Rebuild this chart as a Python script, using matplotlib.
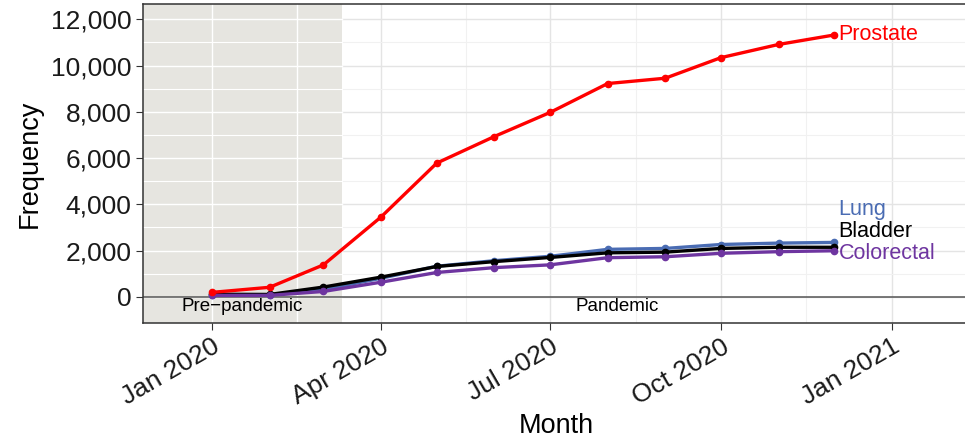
#!/usr/bin/env python
"""
Monthly cumulative frequency of cancer types, pre-pandemic vs pandemic
"""

import matplotlib
matplotlib.use("Agg")
import matplotlib.pyplot as plt
import matplotlib.dates as mdates
import numpy as np
import pandas as pd

plt.rcParams["font.family"] = ["Liberation Sans", "DejaVu Sans"]

# Data
MONTHS = pd.date_range("2020-01-01", periods=12, freq="MS")
PROSTATE = [190, 410, 1380, 3450, 5780, 6930, 7970, 9220, 9450, 10340, 10910, 11320]
LUNG = [90, 80, 310, 800, 1320, 1560, 1750, 2050, 2090, 2260, 2320, 2350]
BLADDER = [110, 100, 420, 850, 1310, 1520, 1700, 1900, 1930, 2090, 2140, 2140]
COLORECTAL = [60, 60, 230, 630, 1050, 1260, 1380, 1690, 1730, 1880, 1950, 1990]

SERIES = ["Lung", "Bladder", "Colorectal", "Prostate"]
VALUES = [LUNG, BLADDER, COLORECTAL, PROSTATE]
COLOURS = ["#4a6cb3", "black", "#6e35a0", "#ff0000"]
LABEL_Y = [3780, 2830, 1880, 11320]

SHADE_END = pd.Timestamp("2020-03-11")
PRE_TEXT_X = pd.Timestamp("2020-01-17")
PAN_TEXT_X = pd.Timestamp("2020-08-06")
X_MIN = pd.Timestamp("2019-11-25")
X_MAX = pd.Timestamp("2021-02-12")

fig = plt.figure(figsize=(9.65, 4.38), dpi=100)
ax = fig.add_axes([0.1485, 0.263, 0.8565, 0.728])

ax.set_xlim(X_MIN, X_MAX)
ax.set_ylim(-1126, 12662)

# Ticks
major_x = pd.date_range("2020-01-01", "2021-01-01", freq="3MS")
minor_x = [a + (b - a) / 2 for a, b in zip(major_x[:-1], major_x[1:])]
major_y = np.arange(0, 12001, 2000)
minor_y = np.arange(1000, 12001, 2000)

ax.set_xticks(major_x)
ax.set_xticks(minor_x, minor=True)
ax.set_yticks(major_y)
ax.set_yticks(minor_y, minor=True)
ax.xaxis.set_major_formatter(mdates.DateFormatter("%b %Y"))
ax.yaxis.set_major_formatter(matplotlib.ticker.FuncFormatter(lambda v, p: f"{int(v):,}"))

# Grid (light grey in the pandemic part)
ax.set_axisbelow(True)
ax.grid(which="major", color="#e4e4e4", linewidth=1.0)
ax.grid(which="minor", color="#f1f1f1", linewidth=0.8)

# Pre-pandemic shading with white grid on top
ax.axvspan(X_MIN, SHADE_END, color="#e6e5e0", zorder=0.6, linewidth=0)
for y in list(major_y) + list(minor_y):
    ax.plot([X_MIN, SHADE_END], [y, y], color="white",
            linewidth=1.0 if y in major_y else 0.8, zorder=0.7)
for x in list(major_x) + list(minor_x):
    if x < SHADE_END:
        ax.axvline(x, color="white", linewidth=1.0, zorder=0.7)

ax.axhline(0, color="#555555", linewidth=1.1, zorder=1)

# Series lines
for name, vals, col, ly in zip(SERIES, VALUES, COLOURS, LABEL_Y):
    ax.plot(MONTHS, vals, color=col, linewidth=2.4, marker="o", markersize=4.5, zorder=3)
    ax.annotate(name, xy=(MONTHS[-1], ly), xytext=(3, 0), textcoords="offset points",
                color=col, fontsize=15.5, va="center", ha="left")

ax.text(PRE_TEXT_X, -430, "Pre\u2212pandemic", fontsize=13.5, ha="center", va="center", zorder=4)
ax.text(PAN_TEXT_X, -430, "Pandemic", fontsize=13.5, ha="center", va="center", zorder=4)

ax.tick_params(axis="both", which="major", labelsize=19, color="#333333", length=5,
               labelcolor="#1a1a1a")
ax.tick_params(axis="both", which="minor", length=0)
plt.setp(ax.get_xticklabels(), rotation=30, ha="right", rotation_mode="anchor")

for spine in ax.spines.values():
    spine.set_color("#333333")
    spine.set_linewidth(1.1)

ax.set_ylabel("Frequency", fontsize=19.5, labelpad=6)
ax.set_xlabel("Month", fontsize=19.5, labelpad=2)

fig.savefig("out.png", dpi=100)
